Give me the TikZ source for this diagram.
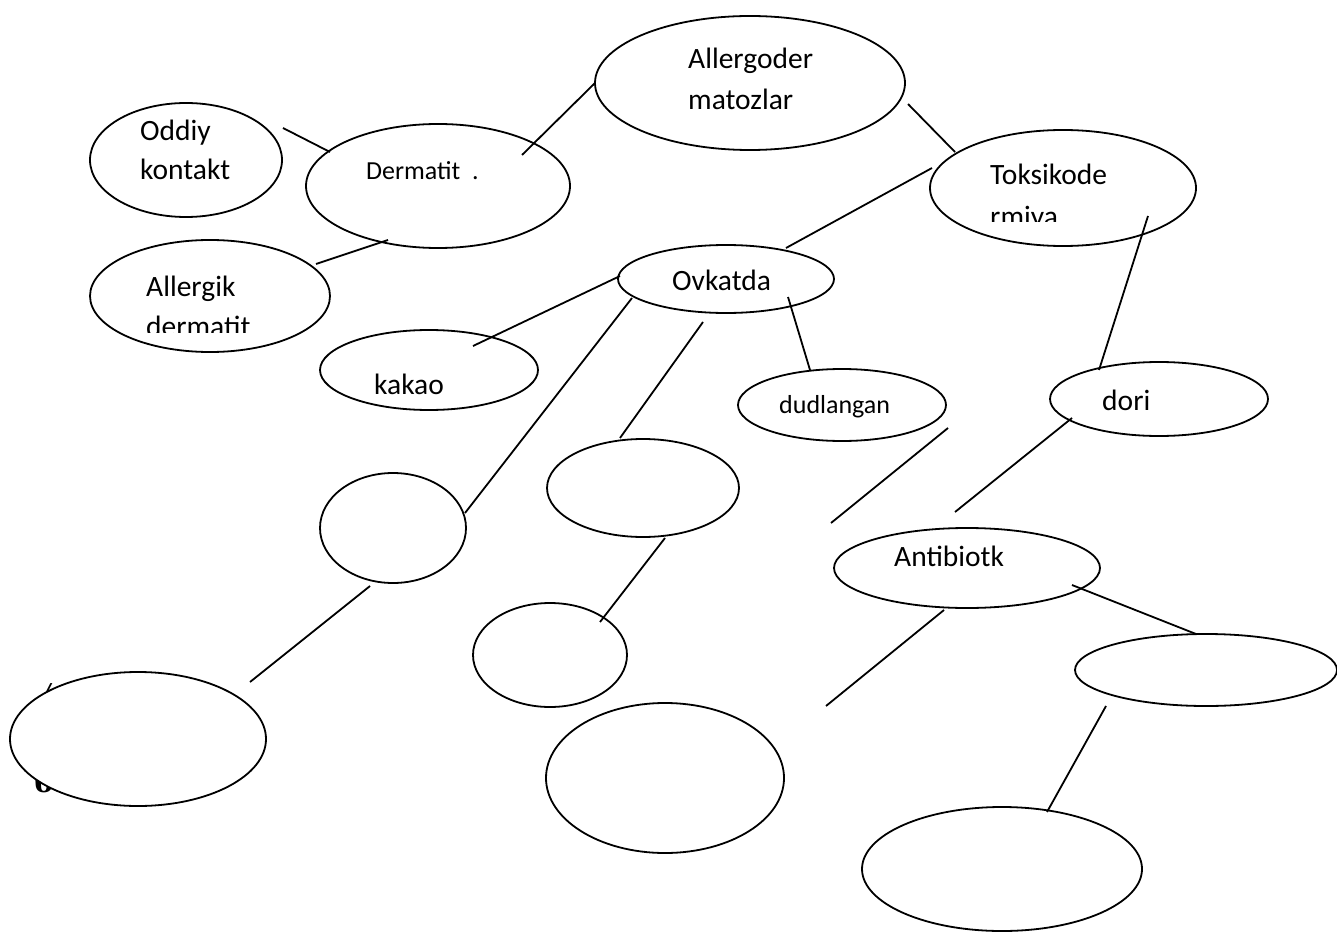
\documentclass[tikz,border=0pt]{standalone}
\usepackage{fontspec}
\setmainfont{Carlito}
\newfontfamily\strayfont{DejaVu Serif}
\usetikzlibrary{shapes.geometric}

\begin{document}
\begin{tikzpicture}[x=1pt,y=-1pt]
\tikzstyle{oval}=[draw, ellipse, line width=1.8pt, inner sep=0pt]
\tikzstyle{txt}=[anchor=base west, inner sep=0pt, font=\fontsize{29.5}{34}\selectfont]
\tikzstyle{smalltxt}=[anchor=base west, inner sep=0pt, font=\fontsize{26}{30}\selectfont]
\tikzstyle{link}=[line width=1.8pt]
\useasboundingbox (0,0) rectangle (1337,933);

% stray letters, half hidden
\node[inner sep=0pt, font=\strayfont\itshape\fontsize{26}{30}\selectfont] (strayA) at (46,694) {/};
\node[inner sep=0pt, font=\strayfont\bfseries\fontsize{28}{30}\selectfont] (strayB) at (44,782) {б};

\node[oval, minimum width=192pt, minimum height=114pt] (oddiy) at (186,160) {};
\node[oval, minimum width=264pt, minimum height=124pt] (dermatit) at (438,186) {};
\node[oval, minimum width=310pt, minimum height=134pt] (allergoder) at (750,83) {};
\node[oval, minimum width=266pt, minimum height=116pt] (toksik) at (1063,188) {};
\node[oval, minimum width=240pt, minimum height=112pt] (allergik) at (210,296) {};
\node[oval, minimum width=216pt, minimum height=68pt] (ovkatda) at (726,279) {};
\node[oval, minimum width=218pt, minimum height=80pt] (kakao) at (429,370) {};
\node[oval, minimum width=208pt, minimum height=72pt] (dudlangan) at (842,405) {};
\node[oval, minimum width=218pt, minimum height=74pt] (dori) at (1159,399) {};
\node[oval, minimum width=146pt, minimum height=110pt] (bosA) at (393,528) {};
\node[oval, minimum width=192pt, minimum height=98pt] (bosB) at (643,488) {};
\node[oval, minimum width=266pt, minimum height=80pt] (antibiotk) at (967,568) {};
\node[oval, minimum width=154pt, minimum height=104pt] (bosC) at (550,655) {};
\node[oval, minimum width=262pt, minimum height=72pt] (bosD) at (1206,670) {};
\node[oval, fill=white, minimum width=256pt, minimum height=134pt] (bosE) at (138,739) {};
\node[oval, minimum width=238pt, minimum height=150pt] (bosF) at (665,778) {};
\node[oval, minimum width=280pt, minimum height=124pt] (bosG) at (1002,869) {};

\node[txt] (oddiyA) at (140,141) {Oddiy};
\node[txt] (oddiyB) at (140,180) {kontakt};
\node[txt] (allergoderA) at (688,69) {Allergoder};
\node[txt] (allergoderB) at (688,110) {matozlar};
\node[smalltxt] (dermatitA) at (366,180) {Dermatit\ \ .};
\node[txt] (toksikA) at (990,185) {Toksikode};
\begin{scope}
\clip (900,190) rectangle (1200,222);
\node[txt] (toksikB) at (990,226) {rmiya};
\end{scope}
\node[txt] (allergikA) at (146,296) {Allergik};
\begin{scope}
\clip (100,300) rectangle (320,332);
\node[txt] (allergikB) at (146,336) {dermatit};
\end{scope}
\node[txt] (ovkatdaA) at (672,290) {Ovkatda};
\node[txt] (kakaoA) at (374,394) {kakao};
\node[smalltxt] (dudlanganA) at (779,413) {dudlangan};
\node[txt] (doriA) at (1102,410) {dori};
\node[txt] (antibiotkA) at (894,566) {Antibiotk};

\coordinate (oddiy-e) at (283,128);
\coordinate (dermatit-w) at (330,152);
\coordinate (dermatit-ne) at (522,155);
\coordinate (allergoder-w) at (595,83);
\coordinate (allergoder-se) at (908,104);
\coordinate (toksik-nw) at (955,152);
\coordinate (allergik-ne) at (316,264);
\coordinate (dermatit-s) at (388,240);
\coordinate (ovkatda-n) at (786,248);
\coordinate (toksik-w) at (932,168);
\coordinate (kakao-ne) at (473,346);
\coordinate (ovkatda-w) at (620,276);
\coordinate (ovkatda-se) at (788,297);
\coordinate (dudlangan-n) at (810,370);
\coordinate (toksik-s) at (1148,216);
\coordinate (dori-n) at (1099,370);
\coordinate (bosA-e) at (465,513);
\coordinate (ovkatda-sw) at (632,298);
\coordinate (bosB-n) at (620,438);
\coordinate (ovkatda-s) at (703,322);
\coordinate (bosE-ne) at (250,682);
\coordinate (bosA-s) at (370,586);
\coordinate (bosC-ne) at (600,622);
\coordinate (bosB-s) at (665,538);
\coordinate (loose-a) at (831,523);
\coordinate (loose-b) at (948,428);
\coordinate (antibiotk-n) at (955,512);
\coordinate (dori-sw) at (1072,418);
\coordinate (antibiotk-e) at (1072,585);
\coordinate (bosD-n) at (1196,634);
\coordinate (bosF-ne) at (826,706);
\coordinate (antibiotk-s) at (944,610);
\coordinate (bosD-s) at (1106,706);
\coordinate (bosG-n) at (1047,812);

\path[link]
(oddiy-e) edge (dermatit-w)
(dermatit-ne) edge (allergoder-w)
(allergoder-se) edge (toksik-nw)
(allergik-ne) edge (dermatit-s)
(ovkatda-n) edge (toksik-w)
(kakao-ne) edge (ovkatda-w)
(ovkatda-se) edge (dudlangan-n)
(toksik-s) edge (dori-n)
(bosA-e) edge (ovkatda-sw)
(bosB-n) edge (ovkatda-s)
(bosE-ne) edge (bosA-s)
(bosC-ne) edge (bosB-s)
(loose-a) edge (loose-b)
(antibiotk-n) edge (dori-sw)
(antibiotk-e) edge (bosD-n)
(bosF-ne) edge (antibiotk-s)
(bosD-s) edge (bosG-n);
\end{tikzpicture}
\end{document}
